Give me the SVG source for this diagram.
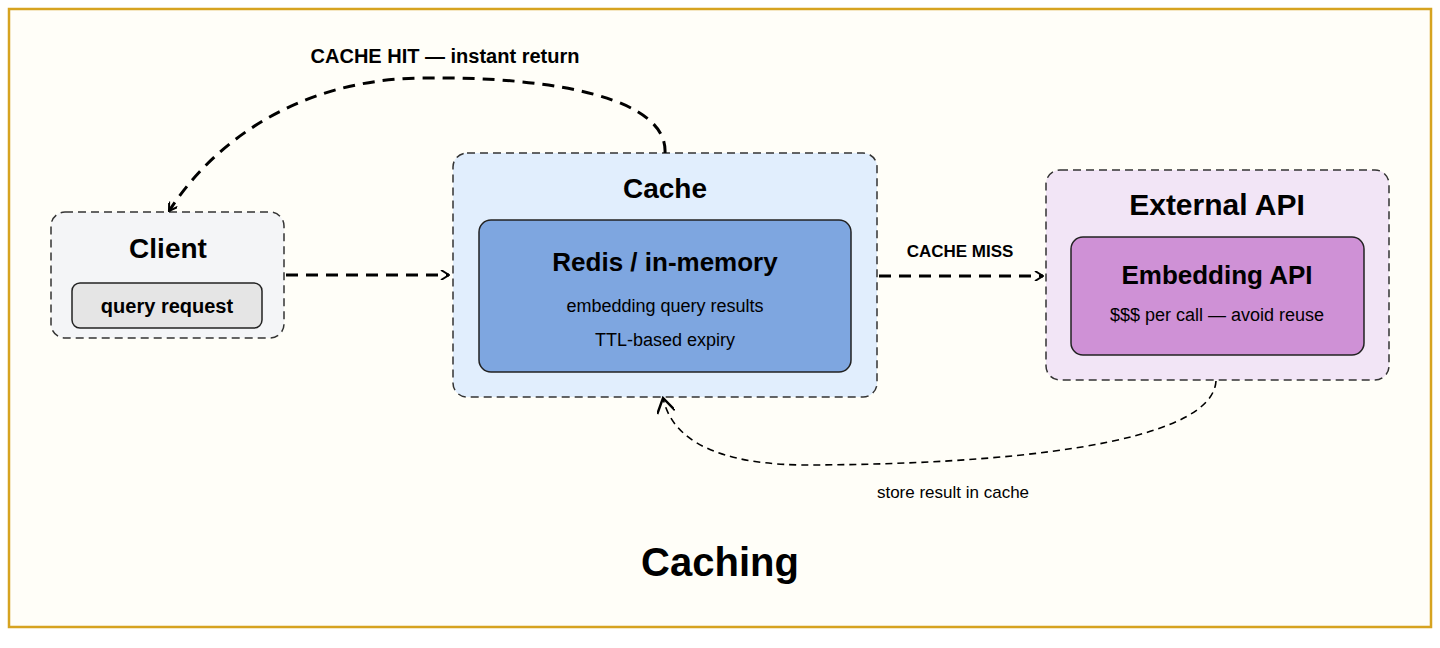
<svg xmlns="http://www.w3.org/2000/svg" width="1440" height="648" viewBox="0 0 1440 648">
<style>
text{font-family:"Liberation Sans",Arial,sans-serif;fill:#000;text-anchor:middle}
.b{font-weight:bold}
.outer{stroke:#333;stroke-width:1.5;stroke-dasharray:8 5}
.inner{stroke:#222;stroke-width:1.5}
.c{fill:none;stroke:#000;stroke-width:3;stroke-dasharray:12 8}
.t{fill:none;stroke:#000;stroke-width:1.6;stroke-dasharray:7 5}
</style>
<defs>
<marker id="a" viewBox="0 0 10 10" refX="9" refY="5" markerWidth="10" markerHeight="10" markerUnits="userSpaceOnUse" orient="auto"><path d="M1,0 L9,5 L1,10" fill="none" stroke="#000" stroke-width="2"/></marker>
<marker id="a2" viewBox="0 0 10 10" refX="9" refY="5" markerWidth="18" markerHeight="18" markerUnits="userSpaceOnUse" orient="auto"><path d="M1,0 L9,5 L1,10" fill="none" stroke="#000" stroke-width="1.3"/></marker>
</defs>
<rect x="9" y="9" width="1422" height="618" fill="#FFFEF8" stroke="#D6A320" stroke-width="2.5"/>
<g id="client">
<rect class="outer" x="51" y="212" width="233" height="126" rx="14" fill="#F4F5F7"/>
<text class="b" x="168" y="258" font-size="28">Client</text>
<rect class="inner" x="72" y="283" width="190" height="45" rx="8" fill="#E5E5E5"/>
<text class="b" x="167" y="313" font-size="20">query request</text>
</g>
<g id="cache">
<rect class="outer" x="453" y="153" width="424" height="244" rx="14" fill="#E1EEFD"/>
<text class="b" x="665" y="198" font-size="28">Cache</text>
<rect class="inner" x="479" y="220" width="372" height="152" rx="12" fill="#7EA6E0"/>
<text class="b" x="665" y="271" font-size="26">Redis / in-memory</text>
<text x="665" y="312" font-size="18">embedding query results</text>
<text x="665" y="346" font-size="18">TTL-based expiry</text>
</g>
<g id="external">
<rect class="outer" x="1046" y="170" width="343" height="210" rx="14" fill="#F2E5F6"/>
<text class="b" x="1217" y="215" font-size="30">External API</text>
<rect class="inner" x="1071" y="237" width="293" height="118" rx="12" fill="#CF91D6"/>
<text class="b" x="1217" y="284" font-size="26">Embedding API</text>
<text x="1217" y="321" font-size="18">$$$ per call — avoid reuse</text>
</g>
<g id="connectors">
<path class="c" d="M286,275 L449,275" marker-end="url(#a)"/>
<path class="c" d="M879,276 L1043,276" marker-end="url(#a)"/>
<path class="c" d="M665,153 C668,100 560,76 420,78 C300,80 215,140 169,211" marker-end="url(#a)"/>
<path class="t" d="M1216,381 C1212,445 1000,465 800,465 C700,463 670,430 663,398" marker-end="url(#a2)"/>
</g>
<text class="b" x="445" y="63" font-size="20">CACHE HIT — instant return</text>
<text class="b" x="960" y="257" font-size="17">CACHE MISS</text>
<text x="953" y="498" font-size="17">store result in cache</text>
<text class="b" x="720" y="576" font-size="40">Caching</text>
</svg>
